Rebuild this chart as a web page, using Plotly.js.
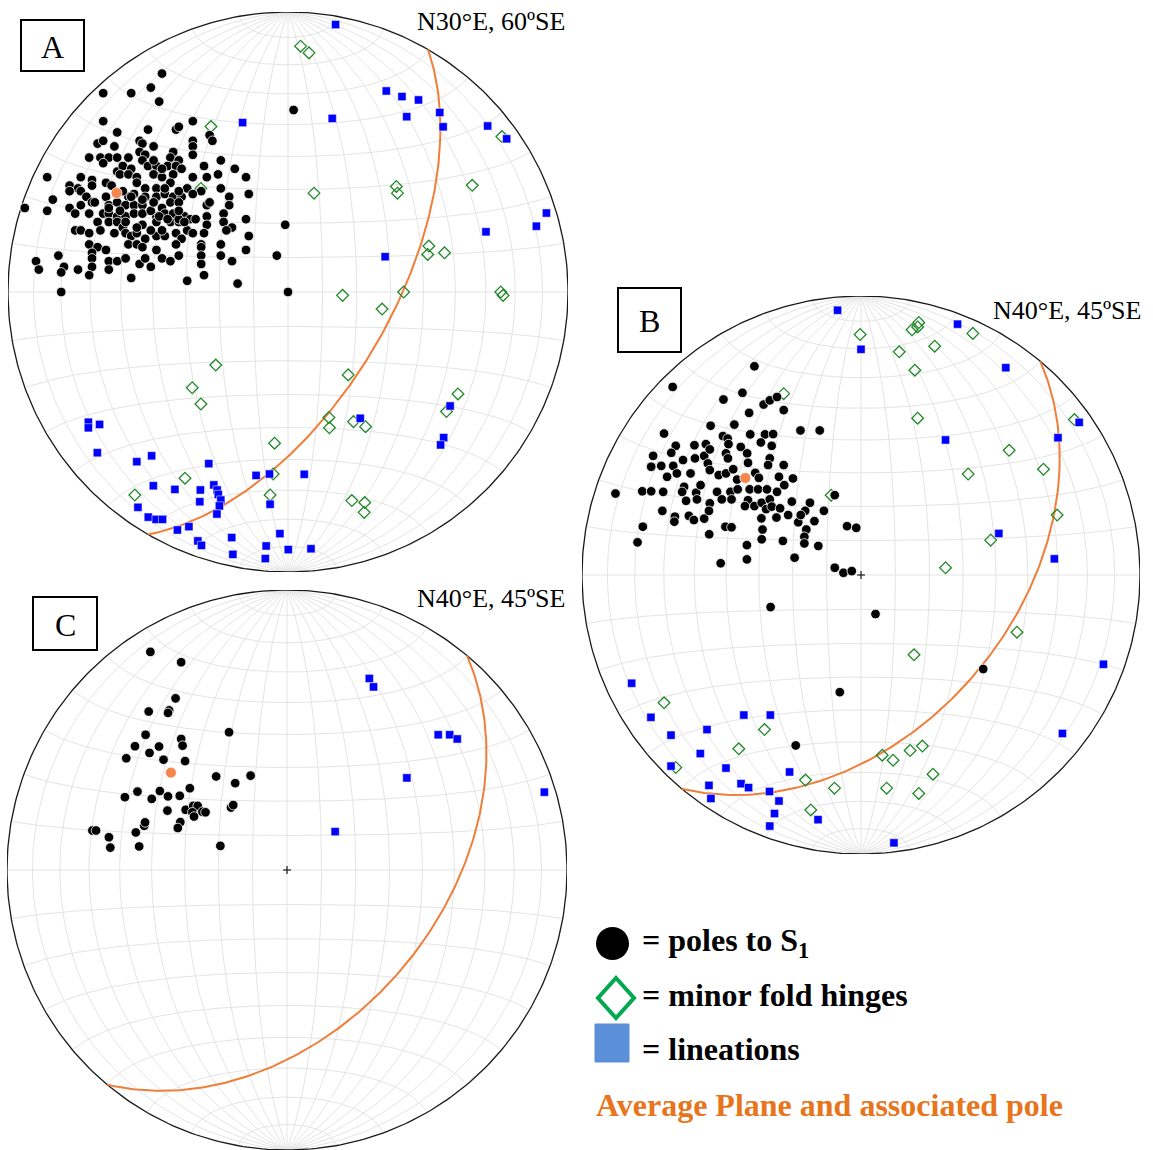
<!DOCTYPE html>
<html><head><meta charset="utf-8">
<script src="https://cdn.plot.ly/plotly-3.0.1.min.js"></script>
<style>html,body{margin:0;padding:0;background:#fff}#chart{width:1153px;height:1150px}</style>
</head><body><div id="chart"></div>
<script>
// ---------- DATA (net coordinates, percent of primitive radius; equal-area lower hemisphere) ----------
// Net A
const A_poleX = [
 -45,-66,-56,-49,-46,-66,-34,-61,-50,-40, -39,-28,-27,-68,-66,-62,-53,-52,-48,-34,
 -34,-34,-71,-67,-64,-61,-57,-53,-51,-41, -42,-39,-24,-19,-66,-61,-59,-56,-52,-50,
 -47,-43,-40,-38,-30,-25,-86,-74,-70,-60, -57,-54,-48,-45,-41,-34,-29,-15,-78,-75,
 -70,-65,-63,-54,-51,-47,-42,-36,-31,-24, -34,-84,-94,-86,-78,-74,-72,-70,-65,-57,
 -55,-51,-47,-44,-41,-38,-21,-14,-78,-74, -69,-64,-61,-58,-55,-52,-45,-42,-39,-29,
 -28,-21,-76,-71,-66,-64,-61,-58,-55,-52, -47,-44,-41,-37,-35,-33,-29,-23,-15,-76,
 -74,-68,-64,-61,-59,-52,-47,-42,-39,-36, -29,-23,-20,-71,-67,-62,-58,-56,-54,-51,
 -47,-44,-40,-38,-34,-30,-22,-14,-71,-68, -65,-70,-57,-54,-52,-47,-40,-31,-31,-24,
 -15,-90,-82,-80,-70,-64,-61,-58,-53,-51, -45,-42,-39,-31,-24,-20,-89,-81,-75,-70,
 -64,-49,-31,-71,-56,-36,-30,-18,-81,-60, -58,-49,-46,-43,-39,-37,-54,-49,-45,-64,
 -56,-52,-48,-39,-59,-44,-39,-48,-45,2, -1,-4,0];
const A_poleY = [
 78,71,71,73,68,61,61,57,58,58, 59,56,54,53,54,52,54,53,52,54,
 52,49,48,48,48,48,48,50,49,50, 48,47,47,44,46,43,45,44,47,45,
 45,45,45,44,45,42,41,41,40,42, 42,41,42,41,42,41,41,41,38,37,
 38,39,38,39,37,37,39,37,36,37, 35,33,30,29,36,36,34,32,34,34,
 35,34,34,35,34,34,34,35,30,31, 32,31,32,31,31,31,30,32,32,31,
 32,31,28,28,28,28,27,27,28,28, 27,28,28,27,26,26,27,28,26,22,
 22,25,25,25,23,24,25,25,25,22, 24,25,23,21,22,21,21,20,21,19,
 20,20,21,19,21,21,22,20,17,16, 15,14,17,17,16,15,17,17,16,17,
 15,11,13,9,12,11,11,12,10,12, 12,11,13,13,13,11,8,7,8,9,
 8,9,10,6,5,4,6,3,0,29, 25,29,27,26,26,25,23,22,22,30,
 34,33,32,29,36,37,36,47,44,65, 24,13,0];
const A_hingeX = [4.5,7.5,-27.5,-31.1,9.3,38.7,39.1,65.8,76.4,50.3,49.9,55.9,19.5,41.3,76,76.8,33.6,-25.8,-34.2,-31.1,21.5,60.7,56.6,14.6,14.8,23.4,27.7,-4.8,-5.3,-36.8,-54.7,-6.4,22.8,27.4,27.2];
const A_hingeY = [87.8,85.4,59.1,37,35.3,37.7,35.3,38.1,55.5,16.4,13.4,14,-1.2,0,0,-1.2,-6.1,-26.1,-34.2,-40,-29.6,-36.4,-42.7,-44.8,-48.5,-46.3,-48.1,-54,-65,-66.5,-72.5,-72.5,-74.5,-75.2,-78.7];
const A_linX = [17,35.1,40.7,46.6,42.4,54.2,55.4,71.3,78.1,-16.2,15.8,92.3,88.7,70.7,34.7,
 -71.3,-71.3,-67.3,-68.1,-54,-48.7,-28.3,-48.1,-40.4,-31.3,-26.5,-25.3,-24.9,-24,-31.5,-24.5,-25.4,
 -53.6,-49.9,-47.1,-44.8,-39.5,-35.4,-32.2,-30.9,-20.1,-19.7,-8.1,-7.8,-2.9,0.1,8.2,-11.4,-6.6,5.8,-6.4,25.8,57.9,55.6,54.5];
const A_linY = [95.5,71.8,69.8,68.6,62.6,64.1,59,59.3,54.7,60.5,62,28.2,23.5,21.5,12.6,
 -46.5,-48.5,-47.3,-57.4,-60.6,-58.5,-61.3,-69.2,-70.5,-70.7,-68.9,-70.7,-72.3,-74.3,-74.9,-76.4,-79.3,
 -76.9,-80.4,-81.2,-81.2,-85,-83.8,-88.9,-90.5,-87.7,-93.7,-95.2,-90.7,-86.3,-92,-91.7,-65.5,-65,-65.1,-75.8,-45.1,-40.7,-52,-54.6];

// Net B
const B_poleX = [-38.2,-67.5,-49.3,-42.5,-34.9,-32.7,-30.1,-27.7,-40.1,-53.9,-45.4,-70.6,-49.5,-47.8,-39.7,-34.4,-31.5,-21.7,-14.8,-66.4,
 -59.7,-55.6,-47.5,-43.1,-35.9,-32,-74.5,-68,-63.8,-59.5,-56.2,-54.2,-48.4,-47.7,-40.8,-40.5,-32.7,-33.3,-27.7,-75.2,
 -71.6,-67.3,-66,-69.5,-61.1,-54.9,-54.2,-51,-48.4,-45.8,-44.4,-37.9,-36.6,-29.4,-24.4,-88,-78.4,-75.2,-70.9,-63.4,
 -64.1,-59.1,-57.5,-51.6,-46.8,-44.2,-39.9,-36.9,-33.7,-30.1,-27.5,-58.8,-62.7,-54.2,-49.9,-46.4,-40.5,-41.6,-38.2,-35.6,
 -32.7,-34,-32,-29,-24.8,-18.3,-20,-13.3,-9.4,-71.2,-66.7,-66.9,-61.7,-59.9,-56.2,-54.5,-35.7,-30.3,-26.1,-22.5,
 -21.6,-16.7,-78.2,-48.6,-46.4,-35.3,-19.6,-5,-1.7,-80.1,-54.4,-35.6,-28,-20.3,-20.3,-15.3,-40.9,-40.9,-50.3,-23.8,
 -9.4,-6.3,-3.3,-32.4,5.2,-7.6,43.8,-23.4];
const B_poleY = [74.8,67.4,62.9,65.3,61.1,62.6,63.8,59.1,58.1,53.5,53.9,50.7,49.8,48.9,50.4,50.4,50.5,51.8,51.8,46.3,
 46.5,46.9,46.9,45.9,47.5,46.3,42.7,43.8,41.2,41.8,42.7,45,43.6,41.8,43.6,40.2,41.8,39.4,39.4,38.8,
 39.1,39.1,36.4,35.2,36.4,40,37.6,35.8,36.4,37.9,34.2,36.6,34.8,35.2,34.6,29.2,30,30,29.8,31.6,
 29.8,29.5,32.2,29.8,29.8,30.7,30.7,30.7,30.7,29.8,32.2,27.1,26.6,25.7,27.1,27.1,26.8,24.7,24.7,25.9,
 27.1,23.6,24.5,23.9,26.3,25.9,23,23,28.6,23,20.9,19.1,21.2,19.7,20.2,23,20.3,20.6,21.5,18.9,
 21.5,19.3,17.3,17.3,17.1,16.3,16.3,17.5,16.9,11.7,14.6,12.8,12.2,13.7,11.3,10.4,10.7,5.6,4.2,6.2,
 2.6,0.8,1.4,-11.5,-14,-42,-33.7,-61.1];
const B_hingeX = [-0.3,18.3,20.7,20.3,40.1,13.7,26.4,19.3,-27.7,20.3,76.5,53.1,65.4,38.4,-10.7,70.3,46.5,30.3,
 55.9,19,-70.6,-34.6,-43.8,-66.4,-19.9,-9.5,-18,7.6,11.5,17.6,22,25.8,9.2,20.7];
const B_hingeY = [86.2,87.9,90.5,88.9,86.6,80,82,73.4,65,56.2,55.7,44.7,37.9,36.2,28.6,21.5,12.5,2.6,
 -20.5,-28.6,-45.8,-55.4,-62.3,-69,-73.5,-76.4,-84.2,-64.6,-66.4,-62.9,-61.3,-71.4,-76.4,-78.3];
const B_linX = [-8.4,0,34.6,51.9,78.2,70.6,30.3,49.4,69.3,
 86.9,72.2,-82.2,-75.3,-68.1,-42,-32.5,-55.2,-57.6,-68.1,-48.4,-25.6,-54.5,-43,-40.3,-32.8,-53.8,-29.4,-31,-32.7,-15.4,11.8];
const B_linY = [94.9,80.9,89.9,74.3,54.7,49.2,48.4,14.9,5.8,
 -32,-56.8,-38.8,-51,-57.4,-50.2,-50.2,-55.4,-64,-68.5,-69.2,-70.6,-75.4,-74.8,-76.2,-77.6,-80.1,-81,-85.5,-90,-87.7,-96];

// Net C
const C_poleX = [-48.8,-37.8,-39.8,-49.4,-42.1,-42.5,-50.5,-54.3,-45.7,-49.1,-37.8,-37.3,-44.1,-36.4,-57.4,-20.7,-25.3,-13,-18.5,-34.7,
 -57.9,-53.4,-45.4,-48.3,-42.5,-38.3,-42.7,-36.2,-33.5,-31.9,-33.8,-33.2,-30.2,-29.1,-20,-19.2,-38.1,-39,-51,-50.7,
 -54,-69.5,-68.2,-63.6,-63.1,-52.8,-23.8];
const C_poleY = [77.9,74.2,61.3,56.6,57,56.1,48.3,44.2,44.1,41.8,46.8,44.4,39.4,38.9,39.9,49.2,33.4,33.7,31,29.2,
 26,28,28.2,25.4,26.3,26.5,21.2,21.5,22.9,22.9,20.6,19.1,20.8,20.6,22.3,23.2,17.1,15,15.8,17,
 13.4,14.1,14.1,11.7,8,8.4,8.6];
const C_linX = [29.4,30.9,54,58.1,60.8,42.8,91.9,17.2];
const C_linY = [68.4,65.4,48.3,48.3,46.8,32.9,27.8,13.7];

// Average planes (strike, dip; right-hand rule) and titles
const planeStrike = [30, 40, 40];
const planeDip    = [60, 45, 45];
const netTitles   = ['N30°E, 60ºSE', 'N40°E, 45ºSE', 'N40°E, 45ºSE'];
const netLabels   = ['A', 'B', 'C'];
const legendLabels = ['= poles to S<sub>1</sub>', '= minor fold hinges', '= lineations'];
const legendNote = 'Average Plane and associated pole';

// ---------- GEOMETRY / STYLE ----------
const W = 1153, H = 1150;
const nets = [
  {cx:288, cy:292, r:280, xa:'x',  ya:'y'},
  {cx:861, cy:575, r:279, xa:'x2', ya:'y2'},
  {cx:287, cy:870, r:280, xa:'x3', ya:'y3'}
];
const SERIF = 'Liberation Serif, Times New Roman, serif';
const rad = Math.PI/180;
function proj(E, N, D){ const k = 100/Math.sqrt(1+D); return [E*k, N*k]; }

function gridTrace(n){
  const xs=[], ys=[];
  for(let d=10; d<=170; d+=10){            // meridians (N-S striking great circles)
    const c=Math.cos(d*rad), s=Math.sin(d*rad);
    for(let p=-90; p<=90; p+=1.5){
      const cp=Math.cos(p*rad), sp=Math.sin(p*rad);
      const q=proj(cp*c, sp, cp*s); xs.push(q[0]); ys.push(q[1]);
    }
    xs.push(null); ys.push(null);
  }
  for(let a=10; a<=170; a+=10){            // small circles about N-S axis
    const sa=Math.sin(a*rad), ca=Math.cos(a*rad);
    for(let t=0; t<=180; t+=1.5){
      const q=proj(sa*Math.cos(t*rad), ca, sa*Math.sin(t*rad)); xs.push(q[0]); ys.push(q[1]);
    }
    xs.push(null); ys.push(null);
  }
  return {type:'scatter', mode:'lines', x:xs, y:ys, xaxis:n.xa, yaxis:n.ya,
          line:{color:'#e4e4e4', width:1}, hoverinfo:'skip', cliponaxis:false};
}
function frameTraces(n){
  const xs=[], ys=[];
  for(let t=0; t<=360; t+=1){ xs.push(100*Math.sin(t*rad)); ys.push(100*Math.cos(t*rad)); }
  const circ = {type:'scatter', mode:'lines', x:xs, y:ys, xaxis:n.xa, yaxis:n.ya,
    line:{color:'#1a1a1a', width:1.3}, hoverinfo:'skip', cliponaxis:false};
  const tk = 2.6, c = 1.4;
  const ticks = {type:'scatter', mode:'lines', xaxis:n.xa, yaxis:n.ya, hoverinfo:'skip', cliponaxis:false,
    x:[0,0,null,0,0,null,100,100+tk,null,-100,-100-tk,null,-c,c,null,0,0],
    y:[100,100+tk,null,-100,-100-tk,null,0,0,null,0,0,null,0,0,null,-c,c],
    line:{color:'#1a1a1a', width:1.2}};
  return [circ, ticks];
}
function planeTrace(i, n){
  const s=planeStrike[i]*rad, dd=(planeStrike[i]+90)*rad, d=planeDip[i]*rad;
  const sv=[Math.sin(s), Math.cos(s), 0];
  const dv=[Math.cos(d)*Math.sin(dd), Math.cos(d)*Math.cos(dd), Math.sin(d)];
  const xs=[], ys=[];
  for(let f=0; f<=180; f+=1){
    const cf=Math.cos(f*rad), sf=Math.sin(f*rad);
    const q=proj(cf*sv[0]+sf*dv[0], cf*sv[1]+sf*dv[1], cf*sv[2]+sf*dv[2]);
    xs.push(q[0]); ys.push(q[1]);
  }
  return {type:'scatter', mode:'lines', x:xs, y:ys, xaxis:n.xa, yaxis:n.ya,
    line:{color:'#ef7e3a', width:2}, hoverinfo:'skip', cliponaxis:false};
}
function poleTrace(i, n){
  const t=(planeStrike[i]-90)*rad, p=(90-planeDip[i])*rad;
  const q=proj(Math.cos(p)*Math.sin(t), Math.cos(p)*Math.cos(t), Math.sin(p));
  return {type:'scatter', mode:'markers', x:[q[0]], y:[q[1]], xaxis:n.xa, yaxis:n.ya, cliponaxis:false,
    marker:{symbol:'circle', size:11, color:'#f5874e', line:{color:'#ffffff', width:0.8}}, hoverinfo:'skip'};
}
function pts(x, y, n, kind){
  const m = {
    pole:  {symbol:'circle', size:9.6, color:'#000000', line:{color:'#ffffff', width:0.8}},
    hinge: {symbol:'diamond-open', size:9, color:'#22882a', line:{color:'#22882a', width:1.3}},
    lin:   {symbol:'square', size:8.2, color:'#0000ff', line:{color:'#ffffff', width:0.5}}
  }[kind];
  return {type:'scatter', mode:'markers', x:x, y:y, xaxis:n.xa, yaxis:n.ya, marker:m, cliponaxis:false, hoverinfo:'skip'};
}

const data = [];
const sets = [
  {hx:A_hingeX, hy:A_hingeY, lx:A_linX, ly:A_linY, px:A_poleX, py:A_poleY},
  {hx:B_hingeX, hy:B_hingeY, lx:B_linX, ly:B_linY, px:B_poleX, py:B_poleY},
  {hx:[], hy:[], lx:C_linX, ly:C_linY, px:C_poleX, py:C_poleY}
];
nets.forEach((n,i)=>{
  data.push(gridTrace(n));
  frameTraces(n).forEach(t=>data.push(t));
  data.push(planeTrace(i,n));
  const s=sets[i];
  if(s.hx.length) data.push(pts(s.hx, s.hy, n, 'hinge'));
  data.push(pts(s.lx, s.ly, n, 'lin'));
  data.push(pts(s.px, s.py, n, 'pole'));
  data.push(poleTrace(i,n));
});

const px = v => v/W, py = v => 1 - v/H;
const layout = {
  width:W, height:H, margin:{l:0,r:0,t:0,b:0}, showlegend:false,
  paper_bgcolor:'#ffffff', plot_bgcolor:'rgba(0,0,0,0)', hovermode:false,
  annotations:[], shapes:[]
};
nets.forEach((n,i)=>{
  const sfx = i===0 ? '' : String(i+1);
  layout['xaxis'+sfx] = {domain:[px(n.cx-n.r), px(n.cx+n.r)], range:[-100,100], visible:false, fixedrange:true, anchor:'y'+sfx};
  layout['yaxis'+sfx] = {domain:[py(n.cy+n.r), py(n.cy-n.r)], range:[-100,100], visible:false, fixedrange:true, anchor:'x'+sfx};
});
function ann(text, x, y, o){
  return Object.assign({xref:'paper', yref:'paper', x:px(x), y:py(y), text:text, showarrow:false,
    xanchor:'left', yanchor:'middle', font:{family:SERIF, size:26, color:'#000'}}, o||{});
}
// net titles
layout.annotations.push(ann(netTitles[0], 567, 22, {xanchor:'right'}));
layout.annotations.push(ann(netTitles[1], 1143, 310, {xanchor:'right'}));
layout.annotations.push(ann(netTitles[2], 567, 598, {xanchor:'right'}));
// boxed labels
const boxes = [[21,20,84,71],[618,288,681,352],[33,597,97,650]];
boxes.forEach((b,i)=>{
  layout.shapes.push({type:'rect', xref:'paper', yref:'paper', x0:px(b[0]), x1:px(b[2]), y0:py(b[3]), y1:py(b[1]),
    line:{color:'#000', width:2}, fillcolor:'rgba(0,0,0,0)'});
  layout.annotations.push(ann(netLabels[i], (b[0]+b[2])/2, (b[1]+b[3])/2+1, {xanchor:'center', font:{family:SERIF, size:32, color:'#000'}}));
});
// legend
layout.shapes.push({type:'circle', xref:'paper', yref:'paper', x0:px(596), x1:px(629), y0:py(960), y1:py(927),
  fillcolor:'#000', line:{color:'#000', width:0}});
const dcx=616, dcy=998, dw=18, dh=20;
layout.shapes.push({type:'path', xref:'paper', yref:'paper',
  path:`M ${px(dcx)},${py(dcy-dh)} L ${px(dcx+dw)},${py(dcy)} L ${px(dcx)},${py(dcy+dh)} L ${px(dcx-dw)},${py(dcy)} Z`,
  line:{color:'#00a84f', width:4}, fillcolor:'rgba(0,0,0,0)'});
layout.shapes.push({type:'rect', xref:'paper', yref:'paper', x0:px(595), x1:px(629), y0:py(1062), y1:py(1024),
  fillcolor:'#5b8fd8', line:{color:'#5b8fd8', width:1}});
const LF = {family:SERIF, size:32, color:'#000'};
layout.annotations.push(ann('<b>'+legendLabels[0]+'</b>', 640, 942, {font:LF}));
layout.annotations.push(ann('<b>'+legendLabels[1]+'</b>', 640, 995, {font:LF}));
layout.annotations.push(ann('<b>'+legendLabels[2]+'</b>', 640, 1049, {font:LF}));
layout.annotations.push(ann('<b>'+legendNote+'</b>', 594, 1105, {font:{family:SERIF, size:32, color:'#e8741c'}}));

Plotly.newPlot('chart', data, layout, {staticPlot:true, displayModeBar:false});
</script></body></html>
